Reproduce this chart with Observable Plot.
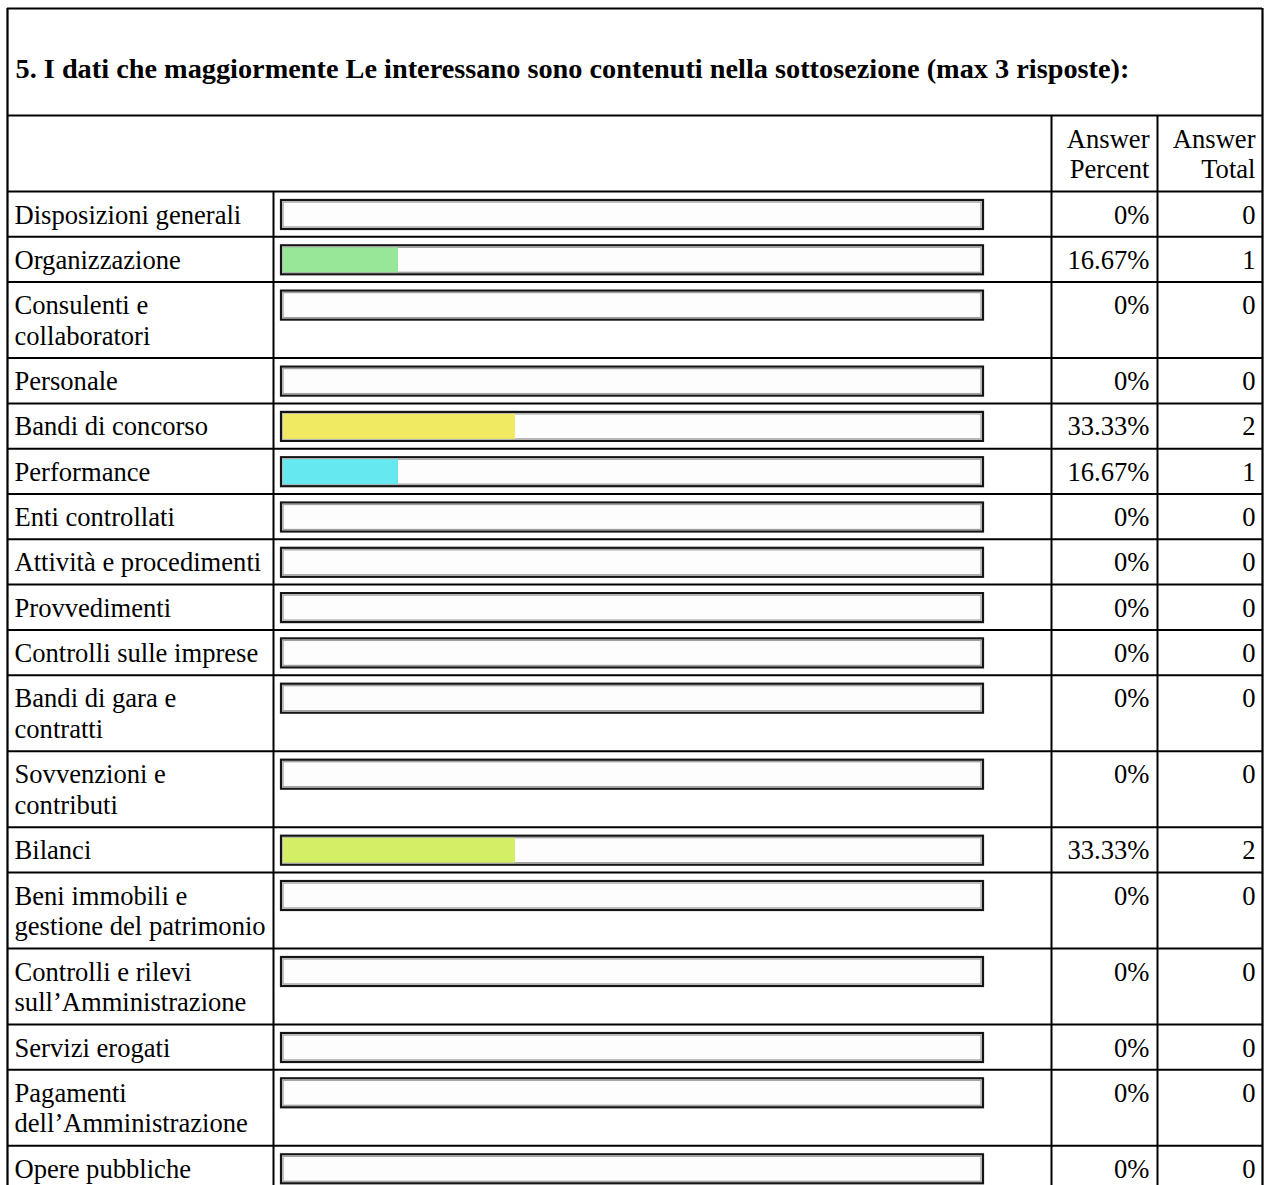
<!DOCTYPE html>
<html>
<head>
<meta charset="utf-8">
<script src="https://cdn.jsdelivr.net/npm/d3@7"></script>
<script src="https://cdn.jsdelivr.net/npm/@observablehq/plot@0.6"></script>
<style>
  html, body { margin: 0; padding: 0; background: #fff; }
  #chart svg { display: block; }
</style>
</head>
<body>
<div id="chart"></div>
<script>
// ---------- DATA ----------
const title = "5. I dati che maggiormente Le interessano sono contenuti nella sottosezione (max 3 risposte):";
const headerPercent = "Answer\nPercent";
const headerTotal = "Answer\nTotal";
const categories = [
  "Disposizioni generali",
  "Organizzazione",
  "Consulenti e\ncollaboratori",
  "Personale",
  "Bandi di concorso",
  "Performance",
  "Enti controllati",
  "Attività e procedimenti",
  "Provvedimenti",
  "Controlli sulle imprese",
  "Bandi di gara e\ncontratti",
  "Sovvenzioni e\ncontributi",
  "Bilanci",
  "Beni immobili e\ngestione del patrimonio",
  "Controlli e rilevi\nsull’Amministrazione",
  "Servizi erogati",
  "Pagamenti\ndell’Amministrazione",
  "Opere pubbliche"
];
const percents = [0, 16.67, 0, 0, 33.33, 16.67, 0, 0, 0, 0, 0, 0, 33.33, 0, 0, 0, 0, 0];
const totals   = [0, 1, 0, 0, 2, 1, 0, 0, 0, 0, 0, 0, 2, 0, 0, 0, 0, 0];
const barColors = ["#e8a0a0", "#98e698", "#a0b8e8", "#e0a0e0", "#f0ea62", "#66e8f0", "#e8c090", "#b0a0e8",
                   "#a0e8c8", "#e8e0a0", "#c0c0c0", "#a0d0e8", "#d4ee66", "#e8b0c8", "#b8e8a0", "#a0a0e8", "#e8c8a0", "#a0e8e8"];

// ---------- LAYOUT ----------
const W = 1267, H = 1185;
const FONT = "Liberation Serif, Times New Roman, serif";
const FS = 26.6, TITLE_FS = 28.3, LH = 30.7, PAD = 14.6, BASE = 32;
const tableTop = 8, titleH = 107;
const colLeft = 7, colLabelDiv = 273, barL = 281, barR = 983, colPct = 1051, colTot = 1157, colRight = 1262;
const toX = px => (px - barL) / (barR - barL) * 100;   // pixel layout -> percent scale units
const nLines = s => s.split("\n").length;

const headerTop = tableTop + titleH;
const headerBottom = headerTop + PAD + 2 * LH;
let cursor = headerBottom;
const rows = categories.map((label, i) => {
  const top = cursor;
  const h = PAD + nLines(label) * LH;
  cursor += h;
  return {label, pct: percents[i], total: totals[i], color: barColors[i], top, bottom: top + h,
          pctText: `${percents[i]}%`, totText: String(totals[i])};
});
const tableBottom = cursor;

const hLines = [
  {y: tableTop, x1: colLeft, x2: colRight, w: 2.2},
  {y: headerTop, x1: colLeft, x2: colRight, w: 2},
  {y: headerBottom, x1: colLeft, x2: colRight, w: 2},
  ...rows.map(r => ({y: r.bottom, x1: colLeft, x2: colRight, w: 2}))
];
const vLines = [
  {x: colLeft, y1: tableTop, y2: tableBottom, w: 2.2},
  {x: colRight, y1: tableTop, y2: tableBottom, w: 2.2},
  {x: colLabelDiv, y1: headerBottom, y2: tableBottom, w: 2},
  {x: colPct, y1: headerTop, y2: tableBottom, w: 2},
  {x: colTot, y1: headerTop, y2: tableBottom, w: 2}
];
const topOff = LH * 0.71;

const chart = Plot.plot({
  width: W, height: H,
  marginTop: 0, marginRight: 0, marginBottom: 0, marginLeft: 0,
  style: {fontFamily: FONT, background: "#fff"},
  x: {domain: [0, 100], range: [barL, barR], axis: null},
  y: {domain: [0, H], range: [0, H], axis: null},
  color: {type: "identity"},
  marks: [
    // grid
    Plot.ruleY(hLines, {y: "y", x1: d => toX(d.x1), x2: d => toX(d.x2), stroke: "#000", strokeWidth: "w"}),
    Plot.ruleX(vLines, {x: d => toX(d.x), y1: "y1", y2: "y2", stroke: "#000", strokeWidth: "w"}),
    // bar tracks
    Plot.rect(rows, {x1: 0, x2: 100, y1: d => d.top + 9, y2: d => d.top + 38,
      fill: "#fdfdfd", stroke: "#151515", strokeWidth: 2.2}),
    Plot.rect(rows, {x1: 0, x2: 100, y1: d => d.top + 9, y2: d => d.top + 38, inset: 2,
      fill: "none", stroke: "#a0a0a0", strokeWidth: 1.3}),
    // values
    Plot.rect(rows.filter(d => d.pct > 0), {x1: 0, x2: "pct", y1: d => d.top + 9, y2: d => d.top + 38,
      insetLeft: 2, insetTop: 2, insetBottom: 2, fill: "color"}),
    // title
    Plot.text([title], {x: toX(15), y: tableTop + 69 - topOff, text: d => d, textAnchor: "start",
      lineAnchor: "top", lineHeight: LH / TITLE_FS, fontSize: TITLE_FS, fontWeight: "bold", fill: "#000"}),
    // header
    Plot.text([headerPercent], {x: toX(colPct + 98), y: headerTop + BASE - topOff, text: d => d,
      textAnchor: "end", lineAnchor: "top", lineHeight: LH / FS, fontSize: FS, fill: "#000"}),
    Plot.text([headerTotal], {x: toX(colRight - 7), y: headerTop + BASE - topOff, text: d => d,
      textAnchor: "end", lineAnchor: "top", lineHeight: LH / FS, fontSize: FS, fill: "#000"}),
    // rows
    Plot.text(rows, {x: toX(colLeft + 7), y: d => d.top + BASE - topOff, text: "label", textAnchor: "start",
      lineAnchor: "top", lineHeight: LH / FS, fontSize: FS, fill: "#000"}),
    Plot.text(rows, {x: toX(colPct + 98), y: d => d.top + BASE - topOff, text: "pctText", textAnchor: "end",
      lineAnchor: "top", lineHeight: LH / FS, fontSize: FS, fill: "#000"}),
    Plot.text(rows, {x: toX(colRight - 7), y: d => d.top + BASE - topOff, text: "totText", textAnchor: "end",
      lineAnchor: "top", lineHeight: LH / FS, fontSize: FS, fill: "#000"})
  ]
});
document.getElementById("chart").appendChild(chart);
</script>
</body>
</html>
